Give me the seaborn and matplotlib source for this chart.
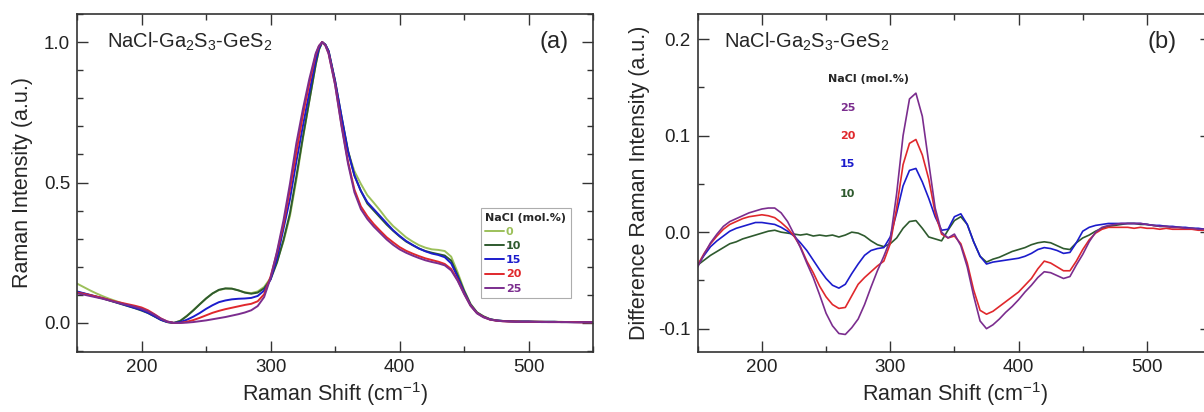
import numpy as np
import pandas as pd
import matplotlib
matplotlib.use('Agg')
import matplotlib.pyplot as plt
from matplotlib.ticker import MultipleLocator, FormatStrFormatter
import seaborn as sns

# Raman shift grids (cm-1); panel (a) has two extra points around the main peak
shift_a = list(range(150, 336, 5)) + [337.5, 340, 342.5] + list(range(345, 551, 5))
shift_b = list(range(150, 551, 5))

# panel (a): normalised Raman spectra, one list per NaCl content (mol.%)
raman_0 = [0.140, 0.128, 0.116, 0.105, 0.095, 0.086, 0.078, 0.070, 0.062, 0.055,
           0.047, 0.037, 0.024, 0.011, 0.003, 0.000, 0.008, 0.025, 0.045, 0.066,
           0.087, 0.105, 0.117, 0.122, 0.122, 0.116, 0.109, 0.106, 0.112, 0.128,
           0.160, 0.220, 0.290, 0.380, 0.510, 0.655, 0.790, 0.920, 0.972, 1.000, 0.990, 0.965,
           0.858, 0.725, 0.610, 0.540, 0.495, 0.455, 0.428, 0.400, 0.370, 0.345,
           0.325, 0.305, 0.290, 0.277, 0.268, 0.262, 0.260, 0.256, 0.236, 0.180,
           0.118, 0.068, 0.038, 0.024, 0.014, 0.009, 0.007, 0.006, 0.006, 0.005,
           0.005, 0.005, 0.004, 0.004, 0.004, 0.004, 0.003, 0.003, 0.003, 0.003, 0.003]
raman_10 = [0.110, 0.105, 0.099, 0.093, 0.087, 0.080, 0.073, 0.066, 0.059, 0.052,
            0.044, 0.035, 0.023, 0.011, 0.003, 0.000, 0.007, 0.024, 0.044, 0.066,
            0.087, 0.105, 0.118, 0.123, 0.122, 0.116, 0.108, 0.104, 0.108, 0.123,
            0.155, 0.215, 0.295, 0.390, 0.522, 0.660, 0.790, 0.920, 0.973, 1.000, 0.991, 0.968,
            0.862, 0.735, 0.615, 0.525, 0.470, 0.425, 0.400, 0.375, 0.350, 0.328,
            0.308, 0.290, 0.277, 0.265, 0.256, 0.250, 0.245, 0.240, 0.222, 0.170,
            0.114, 0.066, 0.037, 0.023, 0.013, 0.009, 0.007, 0.006, 0.005, 0.005,
            0.005, 0.004, 0.004, 0.004, 0.004, 0.003, 0.003, 0.003, 0.003, 0.003, 0.003]
raman_15 = [0.112, 0.106, 0.100, 0.094, 0.088, 0.081, 0.074, 0.067, 0.060, 0.053,
            0.046, 0.036, 0.024, 0.011, 0.003, 0.000, 0.003, 0.011, 0.022, 0.035,
            0.050, 0.063, 0.074, 0.080, 0.084, 0.086, 0.087, 0.089, 0.096, 0.115,
            0.155, 0.230, 0.335, 0.440, 0.575, 0.700, 0.820, 0.935, 0.978, 1.000, 0.991, 0.968,
            0.862, 0.735, 0.610, 0.525, 0.470, 0.430, 0.405, 0.380, 0.355, 0.330,
            0.310, 0.292, 0.278, 0.265, 0.255, 0.247, 0.242, 0.234, 0.212, 0.163,
            0.110, 0.064, 0.036, 0.022, 0.013, 0.009, 0.007, 0.006, 0.005, 0.005,
            0.005, 0.004, 0.004, 0.004, 0.004, 0.003, 0.003, 0.003, 0.003, 0.003, 0.003]
raman_20 = [0.108, 0.104, 0.099, 0.094, 0.088, 0.082, 0.076, 0.071, 0.066, 0.061,
            0.055, 0.045, 0.031, 0.016, 0.005, 0.000, 0.000, 0.004, 0.010, 0.018,
            0.027, 0.036, 0.043, 0.049, 0.054, 0.059, 0.064, 0.068, 0.077, 0.102,
            0.165, 0.250, 0.350, 0.475, 0.608, 0.738, 0.852, 0.955, 0.986, 1.000, 0.988, 0.960,
            0.850, 0.705, 0.575, 0.475, 0.415, 0.380, 0.352, 0.328, 0.305, 0.287,
            0.270, 0.257, 0.247, 0.238, 0.230, 0.224, 0.218, 0.210, 0.192, 0.153,
            0.105, 0.062, 0.035, 0.021, 0.012, 0.008, 0.006, 0.005, 0.005, 0.004,
            0.004, 0.004, 0.004, 0.003, 0.003, 0.003, 0.003, 0.003, 0.002, 0.002, 0.002]
raman_25 = [0.105, 0.101, 0.096, 0.091, 0.086, 0.080, 0.074, 0.068, 0.063, 0.057,
            0.050, 0.041, 0.029, 0.015, 0.005, 0.000, 0.000, 0.001, 0.003, 0.006,
            0.009, 0.013, 0.017, 0.021, 0.026, 0.031, 0.037, 0.045, 0.060, 0.092,
            0.160, 0.255, 0.365, 0.495, 0.640, 0.760, 0.868, 0.960, 0.987, 1.000, 0.988, 0.958,
            0.848, 0.700, 0.568, 0.465, 0.405, 0.370, 0.343, 0.320, 0.297, 0.278,
            0.262, 0.250, 0.240, 0.231, 0.223, 0.217, 0.212, 0.205, 0.187, 0.150,
            0.103, 0.061, 0.034, 0.020, 0.012, 0.008, 0.006, 0.005, 0.004, 0.004,
            0.004, 0.004, 0.003, 0.003, 0.003, 0.003, 0.003, 0.002, 0.002, 0.002, 0.002]

# panel (b): difference spectra relative to the NaCl-free glass
diff_10 = [-0.034, -0.029, -0.024, -0.020, -0.016, -0.012, -0.010, -0.007, -0.005, -0.003,
           -0.001, 0.001, 0.002, 0.000, -0.001, -0.002, -0.003, -0.002, -0.004, -0.003,
           -0.004, -0.003, -0.005, -0.003, 0.000, -0.001, -0.004, -0.009, -0.013, -0.015,
           -0.012, -0.006, 0.004, 0.011, 0.012, 0.004, -0.005, -0.007, -0.009, 0.002,
           0.012, 0.016, 0.008, -0.010, -0.025, -0.031, -0.028, -0.026, -0.023, -0.020,
           -0.018, -0.016, -0.013, -0.011, -0.010, -0.011, -0.014, -0.017, -0.018, -0.011,
           -0.006, -0.003, 0.001, 0.004, 0.006, 0.007, 0.008, 0.009, 0.009, 0.008,
           0.008, 0.007, 0.006, 0.006, 0.005, 0.005, 0.004, 0.004, 0.003, 0.003, 0.003]
diff_15 = [-0.034, -0.024, -0.015, -0.009, -0.004, 0.001, 0.004, 0.006, 0.008, 0.010,
           0.010, 0.009, 0.008, 0.005, 0.001, -0.004, -0.011, -0.019, -0.029, -0.039,
           -0.048, -0.055, -0.058, -0.054, -0.043, -0.033, -0.024, -0.019, -0.017, -0.016,
           -0.005, 0.020, 0.048, 0.064, 0.066, 0.052, 0.035, 0.016, 0.002, 0.003,
           0.016, 0.019, 0.008, -0.010, -0.025, -0.033, -0.031, -0.030, -0.029, -0.028,
           -0.027, -0.025, -0.022, -0.018, -0.016, -0.017, -0.019, -0.022, -0.021, -0.011,
           0.001, 0.005, 0.007, 0.008, 0.009, 0.009, 0.009, 0.009, 0.009, 0.009,
           0.008, 0.007, 0.007, 0.006, 0.006, 0.005, 0.005, 0.004, 0.004, 0.003, 0.003]
diff_20 = [-0.034, -0.022, -0.012, -0.004, 0.003, 0.008, 0.011, 0.014, 0.016, 0.017,
           0.018, 0.017, 0.015, 0.010, 0.004, -0.004, -0.015, -0.030, -0.042, -0.056,
           -0.067, -0.075, -0.079, -0.078, -0.066, -0.054, -0.047, -0.041, -0.035, -0.030,
           -0.012, 0.025, 0.070, 0.092, 0.096, 0.080, 0.055, 0.020, -0.002, -0.006,
           -0.004, -0.012, -0.032, -0.060, -0.081, -0.085, -0.082, -0.077, -0.072, -0.067,
           -0.062, -0.055, -0.048, -0.038, -0.030, -0.032, -0.036, -0.040, -0.040, -0.030,
           -0.018, -0.008, -0.001, 0.003, 0.005, 0.005, 0.005, 0.005, 0.004, 0.005,
           0.004, 0.004, 0.003, 0.004, 0.003, 0.003, 0.003, 0.003, 0.002, 0.002, 0.002]
diff_25 = [-0.036, -0.023, -0.011, -0.002, 0.006, 0.011, 0.014, 0.017, 0.020, 0.022,
           0.024, 0.025, 0.025, 0.020, 0.011, -0.002, -0.016, -0.032, -0.047, -0.065,
           -0.084, -0.097, -0.105, -0.106, -0.099, -0.090, -0.075, -0.057, -0.040, -0.025,
           -0.008, 0.040, 0.100, 0.138, 0.144, 0.120, 0.072, 0.025, 0.000, -0.006,
           -0.002, -0.014, -0.036, -0.066, -0.092, -0.100, -0.096, -0.090, -0.083, -0.077,
           -0.070, -0.062, -0.055, -0.047, -0.041, -0.042, -0.045, -0.048, -0.046, -0.034,
           -0.023, -0.010, 0.000, 0.005, 0.007, 0.008, 0.009, 0.009, 0.009, 0.009,
           0.008, 0.007, 0.006, 0.006, 0.005, 0.005, 0.004, 0.004, 0.003, 0.003, 0.003]

nacl_labels = ['0', '10', '15', '20', '25']
colors = {'0': '#9cc05a', '10': '#2e5a2e', '15': '#1c1ccc', '20': '#e0282c', '25': '#7b2d8e'}

raman_df = pd.DataFrame({
    'shift': shift_a * 5,
    'intensity': raman_0 + raman_10 + raman_15 + raman_20 + raman_25,
    'NaCl': sum([[lab] * len(shift_a) for lab in nacl_labels], []),
})
diff_df = pd.DataFrame({
    'shift': shift_b * 4,
    'intensity': diff_10 + diff_15 + diff_20 + diff_25,
    'NaCl': sum([[lab] * len(shift_b) for lab in nacl_labels[1:]], []),
})

sns.set_theme(style='ticks')
plt.rcParams['font.family'] = ['Liberation Sans', 'DejaVu Sans']
plt.rcParams['axes.unicode_minus'] = False
plt.rcParams['mathtext.fontset'] = 'custom'
plt.rcParams['mathtext.rm'] = 'Liberation Sans'

fig = plt.figure(figsize=(12.04, 4.12), dpi=100)
ax_a = fig.add_axes([0.064, 0.146, 0.4286, 0.820])
ax_b = fig.add_axes([0.5795, 0.146, 0.4264, 0.820])

sns.lineplot(data=raman_df, x='shift', y='intensity', hue='NaCl', palette=colors,
             hue_order=nacl_labels, linewidth=1.4, ax=ax_a)
sns.lineplot(data=diff_df, x='shift', y='intensity', hue='NaCl', palette=colors,
             hue_order=nacl_labels[1:], linewidth=1.2, ax=ax_b, legend=False)

ax_a.set_xlim(150, 550)
ax_a.set_ylim(-0.103, 1.10)
ax_a.yaxis.set_major_locator(MultipleLocator(0.5))
ax_a.yaxis.set_minor_locator(MultipleLocator(0.1))
ax_a.set_ylabel('Raman Intensity (a.u.)', fontsize=15.5, labelpad=8)

ax_b.set_xlim(150, 550)
ax_b.set_ylim(-0.124, 0.226)
ax_b.yaxis.set_major_locator(MultipleLocator(0.1))
ax_b.yaxis.set_minor_locator(MultipleLocator(0.05))
ax_b.set_ylabel('Difference Raman Intensity (a.u.)', fontsize=15.5, labelpad=6)

for ax in (ax_a, ax_b):
    ax.xaxis.set_major_locator(MultipleLocator(100))
    ax.xaxis.set_minor_locator(MultipleLocator(50))
    ax.yaxis.set_major_formatter(FormatStrFormatter('%.1f'))
    ax.set_xlabel('Raman Shift (cm$^{-1}$)', fontsize=15.5, labelpad=3)
    ax.tick_params(which='both', direction='in', top=True, right=True,
                   colors='#333333', labelcolor='#222222', labelsize=13.5, width=1.0)
    ax.tick_params(which='major', length=8, pad=5)
    ax.tick_params(which='minor', length=4)
    for sp in ax.spines.values():
        sp.set_color('#333333')
        sp.set_linewidth(1.2)

ax_a.text(0.058, 0.9, 'NaCl-Ga$_2$S$_3$-GeS$_2$', transform=ax_a.transAxes, fontsize=14.5)
ax_a.text(0.925, 0.9, '(a)', transform=ax_a.transAxes, fontsize=17, ha='center')
ax_b.text(0.052, 0.9, 'NaCl-Ga$_2$S$_3$-GeS$_2$', transform=ax_b.transAxes, fontsize=14.5)
ax_b.text(0.905, 0.9, '(b)', transform=ax_b.transAxes, fontsize=17, ha='center')

# legend of panel (a)
handles, labels = ax_a.get_legend_handles_labels()
leg = ax_a.legend(handles, labels, title='NaCl (mol.%)', loc='upper left',
                  bbox_to_anchor=(0.772, 0.442), frameon=True, fancybox=False,
                  handlelength=1.7, handletextpad=0.15, labelspacing=0.38,
                  borderpad=0.4, labelcolor='linecolor',
                  prop={'size': 8, 'weight': 'bold', 'family': 'Liberation Sans Narrow'},
                  title_fontproperties={'size': 8, 'weight': 'bold', 'family': 'Liberation Sans Narrow'})
leg.get_frame().set_edgecolor('#999999')
leg.get_frame().set_linewidth(0.8)
leg._legend_box.align = 'left'

# text key of panel (b)
ax_b.text(0.333, 0.808, 'NaCl (mol.%)', transform=ax_b.transAxes, fontsize=8,
          fontweight='bold', family='Liberation Sans Narrow', ha='center', va='center')
for lab, ypos in zip(['25', '20', '15', '10'], [0.722, 0.639, 0.556, 0.467]):
    ax_b.text(0.292, ypos, lab, transform=ax_b.transAxes, fontsize=8, fontweight='bold',
              family='Liberation Sans Narrow', color=colors[lab], ha='center', va='center')

fig.savefig('out.png', dpi=100, facecolor='w')
